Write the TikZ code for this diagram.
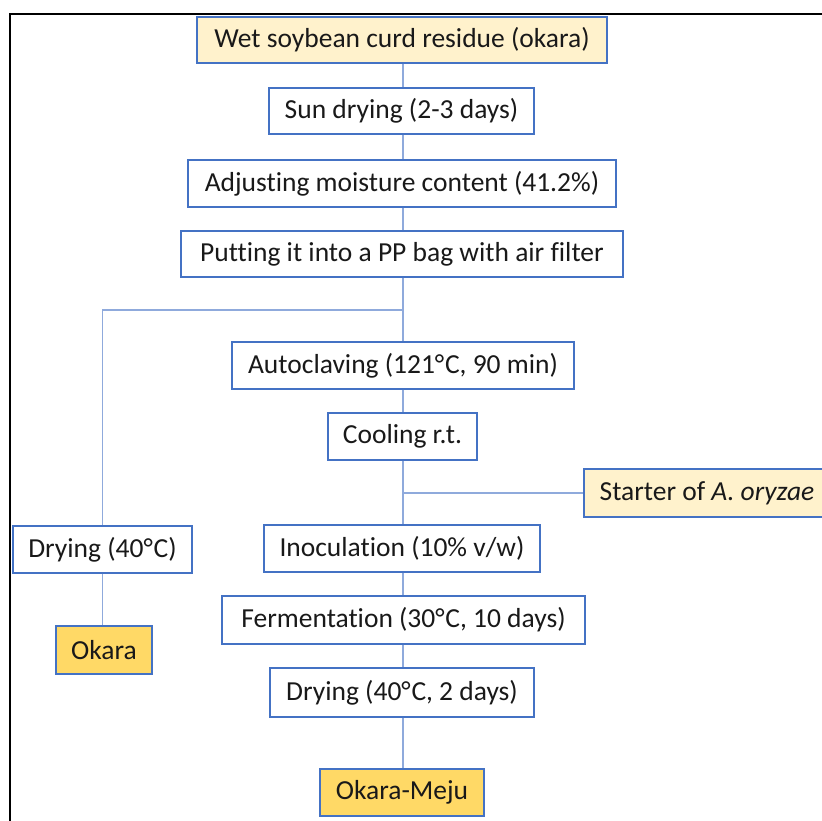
\documentclass[tikz,border=0pt]{standalone}
\usepackage{fontspec}
\setmainfont{Carlito}[RawFeature=-liga]
\definecolor{boxline}{HTML}{4472C4}
\definecolor{linkline}{HTML}{8FAADC}
\definecolor{paleyellow}{HTML}{FFF2CC}
\definecolor{gold}{HTML}{FFD966}
\newcommand{\degC}{°\kern0.8pt C}
\begin{document}
\begin{tikzpicture}[x=1pt,y=-1pt,
  stepbox/.style={draw=boxline, line width=1.3pt, fill=white, inner sep=0pt,
    font=\fontsize{27.5}{31}\selectfont, text=black!90},
  inbox/.style={stepbox, fill=paleyellow},
  outbox/.style={stepbox, fill=gold},
  link/.style={draw=linkline, line width=1.2pt}]
\useasboundingbox (0,0) rectangle (822,820);

% outer frame (left and top edges)
\draw[line width=2.2pt, black] (10,830) -- (10,14) -- (835,14);

% main column
\node[inbox,  minimum width=410pt, minimum height=46pt] (wet)   at (402,40)    {Wet soybean curd residue (okara)};
\node[stepbox,minimum width=265pt, minimum height=46pt] (sun)   at (401.5,111) {Sun drying (2-3 days)};
\node[stepbox,minimum width=428pt, minimum height=47pt] (adj)   at (402,183.5) {Adjusting moisture content (41.2\%)};
\node[stepbox,minimum width=442pt, minimum height=46pt] (bag)   at (402,254)   {Putting it into a PP bag with air filter};
\node[stepbox,minimum width=342pt, minimum height=47pt] (auto)  at (403,365.5) {Autoclaving (121\degC, 90 min)};
\node[stepbox,minimum width=149pt, minimum height=47pt] (cool)  at (402.5,436.5) {Cooling r.t.};
\node[inbox,  minimum width=246pt, minimum height=48pt] (start) at (707,493)   {Starter of \textit{A. oryzae}};
\node[stepbox,minimum width=276pt, minimum height=47pt] (inoc)  at (402,548.5) {Inoculation (10\% v/w)};
\node[stepbox,minimum width=363pt, minimum height=48pt] (ferm)  at (403.5,620) {Fermentation (30\degC, 10 days)};
\node[stepbox,minimum width=264pt, minimum height=49pt] (dryb)  at (402,692.5) {Drying (40\degC, 2 days)};
\node[outbox, minimum width=164pt, minimum height=47pt] (meju)  at (402,792.5) {Okara-Meju};

% side branch
\node[stepbox,minimum width=179pt, minimum height=47pt] (drya)  at (102.5,549.5) {Drying (40\degC)};
\node[outbox, minimum width=96pt,  minimum height=48pt] (okara) at (104,650)   {Okara};

% connectors
\coordinate (spine) at (403,0);
\coordinate (split) at (403,310);
\coordinate (join)  at (403,493);
\path[link] (wet.south -| spine) -- (sun.north -| spine);
\path[link] (sun.south -| spine) -- (adj.north -| spine);
\path[link] (adj.south -| spine) -- (bag.north -| spine);
\path[link] (bag.south -| spine) -- (split) -- (auto.north -| spine);
\path[link] (split) -| (drya.north);
\path[link] (drya.south) -- (drya.south |- okara.north);
\path[link] (auto.south -| spine) -- (cool.north -| spine);
\path[link] (cool.south -| spine) -- (inoc.north -| spine);
\path[link] (join) -- (start.west);
\path[link] (inoc.south -| spine) -- (ferm.north -| spine);
\path[link] (ferm.south -| spine) -- (dryb.north -| spine);
\path[link] (dryb.south -| spine) -- (meju.north -| spine);
\end{tikzpicture}
\end{document}
